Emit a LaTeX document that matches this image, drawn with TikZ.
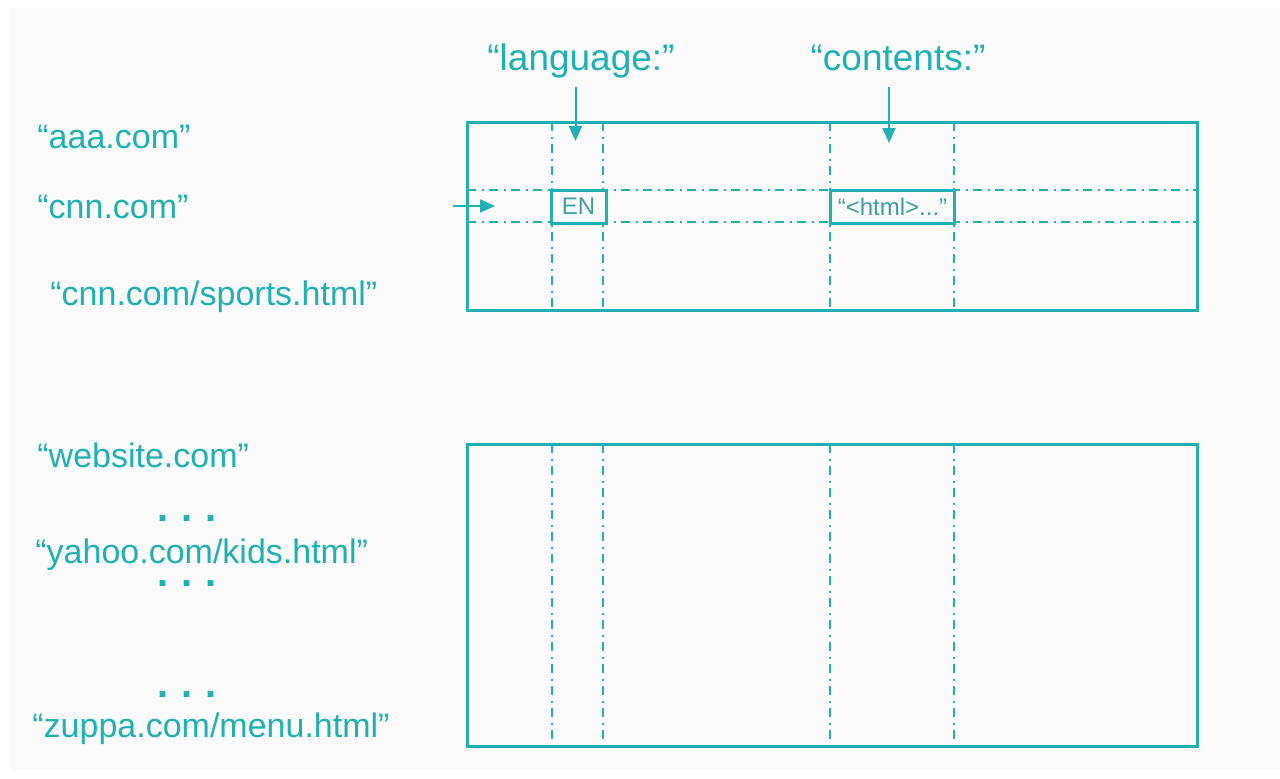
\documentclass[tikz,border=0pt]{standalone}
\usepackage{fontspec}
\setmainfont{Liberation Sans}
\usetikzlibrary{arrows.meta}

\definecolor{webteal}{HTML}{1EB0B2}
\definecolor{celltext}{HTML}{3E9FA1}
\definecolor{paper}{HTML}{FAFAFA}

\tikzset{
  url/.style={anchor=base west, inner sep=0pt, text=webteal,
    font=\fontsize{17}{20}\selectfont},
  field/.style={anchor=base, inner sep=4.5pt, text depth=4pt, text=webteal,
    font=\fontsize{18.5}{22}\selectfont},
  dots/.style={anchor=base, inner sep=0pt, text=webteal,
    font=\fontsize{20}{24}\selectfont\bfseries,
    execute at begin node={\spaceskip=4.6pt\relax}},
  cell/.style={draw=webteal, line width=1.5pt, inner sep=0pt,
    text=celltext, font=\fontsize{12}{14}\selectfont},
  grid/.style={draw=webteal, line width=1pt,
    dash pattern=on 4.5pt off 2.75pt on 1pt off 2.75pt},
  frame/.style={draw=webteal, line width=1.5pt},
  arr/.style={draw=webteal, line width=1pt,
    -{Triangle[length=7.5pt, width=6.5pt]}}
}

\begin{document}
\begin{tikzpicture}[x=0.5pt, y=-0.5pt]

  \newcommand\XL{467};
  \newcommand\XR{1197};
  \newcommand\XLa{552};
  \newcommand\XLb{603};
  \newcommand\XCa{830};
  \newcommand\XCb{954};

  \newcommand\YTa{122};
  \newcommand\YTb{310};
  \newcommand\YBa{444};
  \newcommand\YBb{746};

  \newcommand\YRa{190};
  \newcommand\YRb{222};

  \useasboundingbox (0,0) rectangle (1280,778);
  \fill[white] (0,0) rectangle (1280,778);
  \fill[paper] (10,8) rectangle (1280,770);

  % row keys
  \node[url] (aaa) at (37,148) {“aaa.com”};
  \node[url] (cnn) at (37,218) {“cnn.com”};
  \node[url] (sports) at (50,305) {“cnn.com/sports.html”};

  \node[url] (website) at (37,467) {“website.com”};
  \node[dots] (dotsa) at (187,521) {. . .};
  \node[url] (yahoo) at (35,563) {“yahoo.com/kids.html”};
  \node[dots] (dotsb) at (187,586) {. . .};
  \node[dots] (dotsc) at (187,697) {. . .};
  \node[url] (zuppa) at (32,737) {“zuppa.com/menu.html”};

  % column families
  \node[field] (lang) at (581,70) {“language:”};
  \node[field] (cont) at (898,70) {“contents:”};

  % first tablet
  \foreach \c in {\XLa, \XLb, \XCa, \XCb}
    \draw[grid] (\c, \YTa) -- (\c, \YTb);
  \draw[grid] (\XL, \YRa) -- (\XR, \YRa);
  \draw[grid] (\XL, \YRb) -- (\XR, \YRb);
  \draw[frame] (\XL, \YTa) rectangle (\XR, \YTb);

  \node[cell, fill=paper, minimum width=27.5pt, minimum height=16.5pt]
    (en) at (578.5, 206.5) {EN};
  \node[cell, fill=paper, minimum width=62pt, minimum height=16.5pt]
    (html) at (892.5, 206.5) {“<html>...”};

  % second tablet
  \foreach \c in {\XLa, \XLb, \XCa, \XCb}
    \draw[grid] (\c, \YBa) -- (\c, \YBb);
  \draw[frame] (\XL, \YBa) rectangle (\XR, \YBb);

  % pointers
  \coordinate (langtip) at (575.5, 141);
  \coordinate (conttip) at (889, 143);
  \coordinate (rowin) at (453, 206);
  \coordinate (rowtip) at (495, 206);

  \draw[arr] (lang.south -| langtip) -- (langtip);
  \draw[arr] (cont.south -| conttip) -- (conttip);
  \draw[arr] (rowin) -- (rowtip);

\end{tikzpicture}
\end{document}
